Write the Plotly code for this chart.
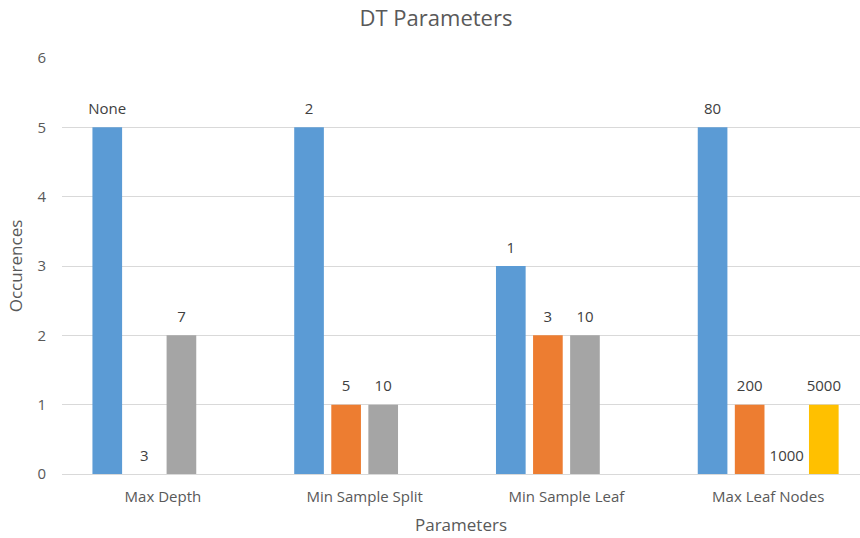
import plotly.graph_objects as go

# Hyperparameters tuned for the decision tree, and how often each value occurred
categories = ["Max Depth", "Min Sample Split", "Min Sample Leaf", "Max Leaf Nodes"]

# One series per candidate slot; labels name the parameter value
series1_values = [5, 5, 3, 5]
series1_labels = ["None", "2", "1", "80"]

series2_values = [0, 1, 2, 1]
series2_labels = ["3", "5", "3", "200"]

series3_values = [2, 1, 2, 0]
series3_labels = ["7", "10", "10", "1000"]

series4_values = [None, None, None, 1]
series4_labels = ["", "", "", "5000"]

y_ticks = [0, 1, 2, 3, 4, 5, 6]

colors = ["#5B9BD5", "#ED7D31", "#A5A5A5", "#FFC000"]
font_family = "'Open Sans', sans-serif"
label_gap = 0.09  # vertical padding (data units) between a bar top and its label

fig = go.Figure()
for i, (vals, labels) in enumerate([
    (series1_values, series1_labels),
    (series2_values, series2_labels),
    (series3_values, series3_labels),
    (series4_values, series4_labels),
]):
    group = f"g{i + 1}"
    fig.add_trace(go.Bar(
        x=categories,
        y=vals,
        marker=dict(color=colors[i], line=dict(width=0)),
        offsetgroup=group,
        name=f"Series {i + 1}",
        showlegend=False,
    ))
    # transparent spacer stacked on the bar carries the value label
    fig.add_trace(go.Bar(
        x=categories,
        y=[label_gap if v is not None else None for v in vals],
        base=[v if v is not None else 0 for v in vals],
        text=labels,
        textposition="outside",
        textfont=dict(size=15, color="#404040", family=font_family),
        marker=dict(color="rgba(0,0,0,0)", line=dict(width=0)),
        offsetgroup=group,
        cliponaxis=False,
        hoverinfo="skip",
        showlegend=False,
    ))

fig.update_layout(
    width=860,
    height=538,
    margin=dict(l=62, r=0, t=58, b=64),
    paper_bgcolor="white",
    plot_bgcolor="white",
    barmode="group",
    bargap=0.265,
    bargroupgap=0.2,
    uniformtext=dict(minsize=15, mode="show"),
    title=dict(
        text="DT Parameters",
        x=0.507,
        xanchor="center",
        y=0.966,
        yanchor="middle",
        font=dict(size=22, color="#595959", family=font_family),
    ),
    font=dict(family=font_family, color="#595959"),
)

fig.update_xaxes(
    range=[-0.5, 3.455],
    showgrid=False,
    showline=True,
    linecolor="#D9D9D9",
    linewidth=1,
    ticks="",
    ticklabelstandoff=9,
    tickfont=dict(size=15, color="#595959"),
    title=dict(text="Parameters", font=dict(size=17, color="#595959"), standoff=14),
)

fig.update_yaxes(
    range=[0, 6],
    tickvals=y_ticks,
    showgrid=True,
    gridcolor="#D9D9D9",
    gridwidth=1,
    zeroline=False,
    showline=False,
    ticks="",
    ticklabelstandoff=15,
    tickfont=dict(size=15, color="#595959"),
    title=dict(text="Occurences", font=dict(size=17, color="#595959"), standoff=10),
)

fig.write_html("out.html")
